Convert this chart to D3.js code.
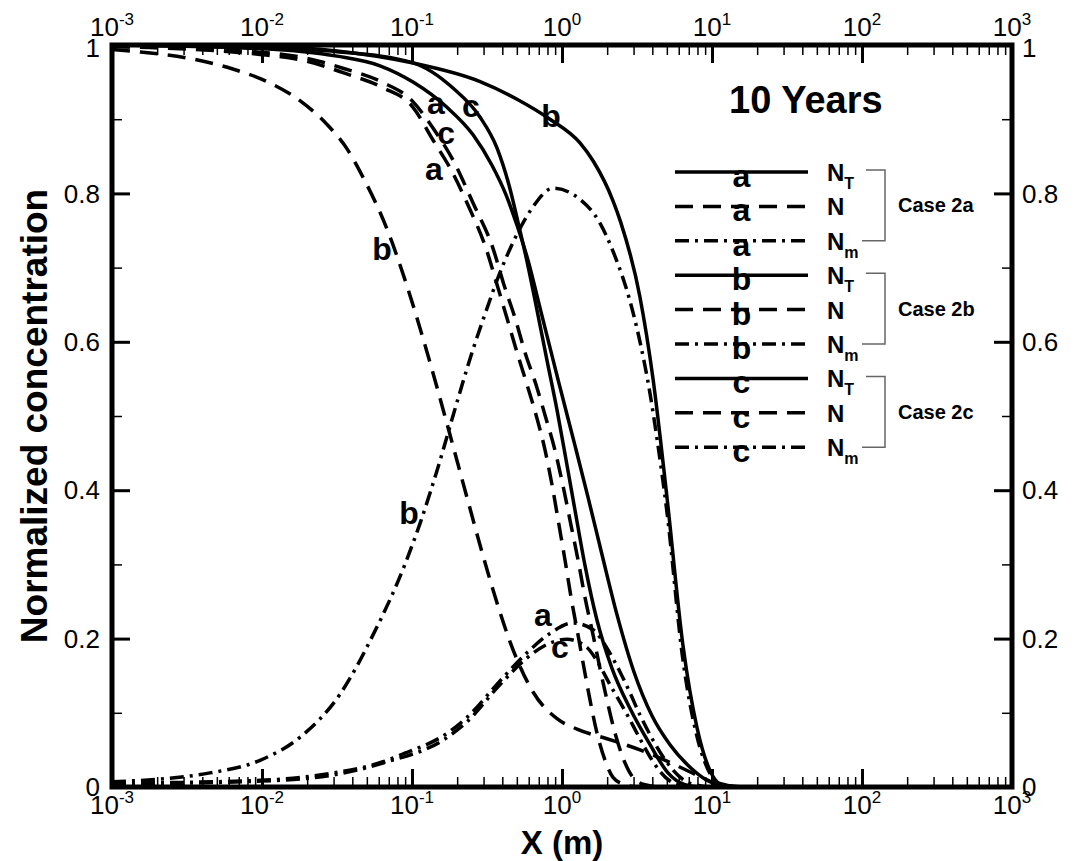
<!DOCTYPE html>
<html>
<head>
<meta charset="utf-8">
<script src="https://cdn.jsdelivr.net/npm/d3@7"></script>
<style>
  body { margin: 0; background: #fff; }
  svg { display: block; font-family: "Liberation Sans", Arial, sans-serif; }
</style>
</head>
<body>
<svg id="chart" width="1075" height="861"></svg>
<script>
// tick values
const xMajor = [1e-3, 1e-2, 1e-1, 1, 10, 100, 1000];
const xExponents = ["-3", "-2", "-1", "0", "1", "2", "3"];
const yMajor = [0, 0.2, 0.4, 0.6, 0.8, 1];
const yMajorLabels = ["0", "0.2", "0.4", "0.6", "0.8", "1"];
const yMinor = [0.1, 0.3, 0.5, 0.7, 0.9];

// case a
const aNT = [[0.001,1],[0.01,0.995],[0.0316,0.985],[0.0612,0.972],[0.1016,0.95],[0.171,0.916],[0.2553,0.879],[0.3412,0.838],[0.4236,0.798],[0.5012,0.757],[0.5934,0.71],[0.7129,0.646],[0.955,0.544],[1.221,0.46],[1.489,0.391],[1.849,0.313],[2.328,0.232],[3.02,0.155],[3.981,0.096],[5.248,0.057],[7.025,0.028],[9.268,0.009],[12.21,0.001],[16.6,0],[1000,0]];
const aN  = [[0.001,0.998],[0.01,0.987],[0.02,0.978],[0.0355,0.962],[0.0631,0.943],[0.1016,0.916],[0.138,0.872],[0.1875,0.827],[0.2328,0.787],[0.3112,0.726],[0.369,0.677],[0.4295,0.632],[0.5012,0.586],[0.5848,0.542],[0.6808,0.497],[0.7709,0.454],[0.871,0.4],[0.955,0.353],[1.047,0.306],[1.148,0.256],[1.279,0.205],[1.403,0.16],[1.538,0.117],[1.71,0.073],[1.936,0.036],[2.188,0.013],[2.63,0.003],[3.311,0],[1000,0]];
const aNm = [[0.001,0.005],[0.0097,0.009],[0.0297,0.019],[0.0641,0.034],[0.0832,0.043],[0.179,0.075],[0.2328,0.094],[0.3864,0.143],[0.5848,0.181],[0.8318,0.207],[1.183,0.221],[1.611,0.212],[1.995,0.187],[2.438,0.155],[2.838,0.127],[3.311,0.097],[4.046,0.063],[5.012,0.033],[7.129,0.005],[10,0],[1000,0]];

// case b
const bNT = [[0.001,1],[0.01,0.998],[0.0316,0.992],[0.1,0.976],[0.2818,0.951],[0.5012,0.927],[0.8318,0.9],[1.318,0.868],[1.622,0.843],[2.188,0.79],[2.455,0.762],[3.311,0.66],[4.046,0.55],[5.012,0.39],[6.412,0.19],[7.943,0.08],[9.705,0.022],[11.22,0.005],[15.85,0],[1000,0]];
const bN  = [[0.001,0.994],[0.00147,0.991],[0.00347,0.981],[0.00631,0.968],[0.01096,0.95],[0.0179,0.925],[0.0271,0.893],[0.0369,0.86],[0.0471,0.822],[0.0681,0.752],[0.0927,0.675],[0.1183,0.605],[0.138,0.558],[0.179,0.475],[0.2328,0.39],[0.2972,0.312],[0.369,0.248],[0.4498,0.196],[0.6412,0.128],[0.9268,0.092],[1.259,0.078],[1.995,0.065],[3.311,0.05],[5.012,0.035],[8.318,0.014],[11.22,0.003],[15.85,0],[1000,0]];
const bNm = [[0.001,0.007],[0.0045,0.019],[0.0097,0.036],[0.0179,0.067],[0.0331,0.125],[0.055,0.205],[0.0897,0.3],[0.113,0.355],[0.1538,0.44],[0.1875,0.5],[0.2553,0.59],[0.3162,0.645],[0.369,0.683],[0.5012,0.745],[0.631,0.78],[0.871,0.807],[1.318,0.792],[1.791,0.76],[2.188,0.722],[2.838,0.655],[3.311,0.6],[3.864,0.53],[4.295,0.47],[5.012,0.37],[6.412,0.17],[7.943,0.068],[9.705,0.018],[11.22,0.003],[15.85,0],[1000,0]];

// case c
const cNT = [[0.001,1],[0.01,0.996],[0.0316,0.991],[0.1016,0.976],[0.1875,0.942],[0.2838,0.903],[0.369,0.861],[0.4436,0.811],[0.5093,0.761],[0.5848,0.708],[0.6808,0.643],[0.7943,0.575],[0.9268,0.508],[1.064,0.441],[1.221,0.373],[1.422,0.299],[1.71,0.225],[2.154,0.16],[2.838,0.106],[3.864,0.057],[5.09,0.019],[6.607,0.003],[8.318,0],[1000,0]];
const cN  = [[0.001,0.998],[0.01,0.99],[0.02,0.982],[0.0355,0.968],[0.0631,0.95],[0.1,0.925],[0.138,0.888],[0.1875,0.845],[0.2553,0.787],[0.3467,0.726],[0.41,0.677],[0.4864,0.632],[0.5662,0.586],[0.6714,0.542],[0.7816,0.497],[0.8974,0.454],[1.03,0.4],[1.148,0.353],[1.279,0.306],[1.422,0.256],[1.611,0.205],[1.791,0.16],[1.995,0.117],[2.254,0.073],[2.588,0.036],[2.972,0.013],[3.573,0.003],[4.498,0],[1000,0]];
const cNm = [[0.001,0.004],[0.01,0.008],[0.0316,0.017],[0.0631,0.032],[0.178,0.069],[0.2328,0.088],[0.3864,0.138],[0.5848,0.174],[0.8318,0.194],[1.079,0.199],[1.469,0.188],[1.71,0.17],[2.089,0.138],[2.71,0.098],[3.311,0.065],[4.046,0.034],[5.248,0.008],[6.31,0.002],[8,0],[1000,0]];

// letters written on the curves: [text, x, y]
const curveLabels = [
  ["a", 0.1445, 0.922], ["c", 0.247, 0.918], ["b", 0.845, 0.904],
  ["c", 0.1686, 0.881], ["a", 0.14, 0.833], ["b", 0.063, 0.726],
  ["b", 0.0955, 0.369], ["a", 0.747, 0.232], ["c", 0.97, 0.189]
];

const cases = ["a", "b", "c"];
const caseNames = ["Case 2a", "Case 2b", "Case 2c"];

const series = [
  { c: "a", k: "T", d: aNT }, { c: "a", k: "", d: aN }, { c: "a", k: "m", d: aNm },
  { c: "b", k: "T", d: bNT }, { c: "b", k: "", d: bN }, { c: "b", k: "m", d: bNm },
  { c: "c", k: "T", d: cNT }, { c: "c", k: "", d: cN }, { c: "c", k: "m", d: cNm }
];

const dashFor = { "T": null, "": "18,10", "m": "14,6,3,6" };

const plotL = 112, plotR = 1012, plotT = 45, plotB = 787;

const svg = d3.select("#chart");

const x = d3.scaleLog().domain([1e-3, 1e3]).range([plotL, plotR]);
const y = d3.scaleLinear().domain([0, 1]).range([plotB, plotT]);

// minor log ticks 2..9 in each decade
const xMinor = [];
for (let e = -3; e < 3; e++) {
  for (let m = 2; m < 10; m++) xMinor.push(m * Math.pow(10, e));
}

function styleAxis(g, w) {
  g.select(".domain").remove();
  g.selectAll("text").remove();
  g.selectAll("line").attr("stroke", "#000").attr("stroke-width", w);
}

// ticks on all four sides, pointing inwards
svg.append("g").attr("transform", `translate(0,${plotB})`)
  .call(d3.axisBottom(x).tickValues(xMajor).tickSize(-18)).call(g => styleAxis(g, 3));
svg.append("g").attr("transform", `translate(0,${plotB})`)
  .call(d3.axisBottom(x).tickValues(xMinor).tickSize(-10)).call(g => styleAxis(g, 1.5));
svg.append("g").attr("transform", `translate(0,${plotT})`)
  .call(d3.axisTop(x).tickValues(xMajor).tickSize(-18)).call(g => styleAxis(g, 3));
svg.append("g").attr("transform", `translate(0,${plotT})`)
  .call(d3.axisTop(x).tickValues(xMinor).tickSize(-10)).call(g => styleAxis(g, 1.5));
svg.append("g").attr("transform", `translate(${plotL},0)`)
  .call(d3.axisLeft(y).tickValues(yMajor).tickSize(-18)).call(g => styleAxis(g, 3));
svg.append("g").attr("transform", `translate(${plotL},0)`)
  .call(d3.axisLeft(y).tickValues(yMinor).tickSize(-10)).call(g => styleAxis(g, 1.5));
svg.append("g").attr("transform", `translate(${plotR},0)`)
  .call(d3.axisRight(y).tickValues(yMajor).tickSize(-18)).call(g => styleAxis(g, 3));
svg.append("g").attr("transform", `translate(${plotR},0)`)
  .call(d3.axisRight(y).tickValues(yMinor).tickSize(-10)).call(g => styleAxis(g, 1.5));

// curves
svg.append("clipPath").attr("id", "plotclip")
  .append("rect").attr("x", plotL).attr("y", plotT - 3)
  .attr("width", plotR - plotL).attr("height", plotB - plotT + 3);

const line = d3.line()
  .x(d => x(d[0]))
  .y(d => y(d[1]))
  .curve(d3.curveMonotoneX);

svg.append("g").attr("clip-path", "url(#plotclip)")
  .selectAll("path")
  .data(series)
  .join("path")
  .attr("d", s => line(s.d))
  .attr("fill", "none")
  .attr("stroke", "#000")
  .attr("stroke-width", 3.5)
  .attr("stroke-dasharray", s => dashFor[s.k]);

// frame
svg.append("rect")
  .attr("x", plotL).attr("y", plotT)
  .attr("width", plotR - plotL).attr("height", plotB - plotT)
  .attr("fill", "none").attr("stroke", "#000").attr("stroke-width", 5);

// x tick labels (10^n) at top and bottom
[plotB + 27, plotT - 9].forEach(by => {
  const t = svg.append("g").selectAll("text")
    .data(xMajor)
    .join("text")
    .attr("x", d => x(d))
    .attr("y", by)
    .attr("text-anchor", "middle")
    .attr("font-size", 26);
  t.append("tspan").text("10");
  t.append("tspan").text((d, i) => xExponents[i])
    .attr("font-size", 17).attr("dy", -11);
});

// y tick labels
svg.append("g").selectAll("text")
  .data(yMajor)
  .join("text")
  .attr("x", plotL - 12).attr("y", d => y(d) + (d === 1 ? 3 : 0)).attr("dy", "0.35em")
  .attr("text-anchor", "end").attr("font-size", 26)
  .text((d, i) => yMajorLabels[i]);
svg.append("g").selectAll("text")
  .data(yMajor)
  .join("text")
  .attr("x", plotR + 10).attr("y", d => y(d) + (d === 1 ? 3 : 0)).attr("dy", "0.35em")
  .attr("text-anchor", "start").attr("font-size", 26)
  .text((d, i) => yMajorLabels[i]);

// axis titles
svg.append("text")
  .attr("x", (plotL + plotR) / 2).attr("y", 854)
  .attr("text-anchor", "middle").attr("font-size", 33).attr("font-weight", "bold")
  .text("X (m)");
svg.append("text")
  .attr("transform", `translate(34,${(plotT + plotB) / 2}) rotate(-90)`)
  .attr("dy", "0.35em")
  .attr("text-anchor", "middle").attr("font-size", 37).attr("font-weight", "bold")
  .text("Normalized concentration");

// letters on curves
svg.append("g").selectAll("text")
  .data(curveLabels)
  .join("text")
  .attr("x", d => x(d[1])).attr("y", d => y(d[2])).attr("dy", "0.35em")
  .attr("text-anchor", "middle").attr("font-size", 32).attr("font-weight", "bold")
  .text(d => d[0]);

// title
svg.append("text")
  .attr("x", 729).attr("y", 113)
  .attr("font-size", 38).attr("font-weight", "bold")
  .text("10 Years");

// legend
const legX0 = 675, legX1 = 808, rowY0 = 172, rowH = 34.4;
const leg = svg.append("g");
series.forEach((s, i) => {
  const ry = rowY0 + i * rowH;
  leg.append("line")
    .attr("x1", legX0).attr("x2", legX1).attr("y1", ry).attr("y2", ry)
    .attr("stroke", "#000").attr("stroke-width", 3.5)
    .attr("stroke-dasharray", dashFor[s.k]);
  leg.append("text")
    .attr("x", (legX0 + legX1) / 2).attr("y", ry + 15)
    .attr("text-anchor", "middle").attr("font-size", 32).attr("font-weight", "bold")
    .text(s.c);
  const t = leg.append("text")
    .attr("x", 827).attr("y", ry + 9)
    .attr("font-size", 24).attr("font-weight", "bold");
  t.append("tspan").text("N");
  if (s.k) t.append("tspan").text(s.k).attr("font-size", 16).attr("dy", 8);
});

// brackets and case names
cases.forEach((c, gi) => {
  const y0 = rowY0 + gi * 3 * rowH - 2;
  const y1 = rowY0 + (gi * 3 + 2) * rowH;
  leg.append("path")
    .attr("d", `M866,${y0}H885V${y1}H862`)
    .attr("fill", "none").attr("stroke", "#666").attr("stroke-width", 1.5);
  leg.append("text")
    .attr("x", 898).attr("y", (y0 + y1) / 2).attr("dy", "0.35em")
    .attr("font-size", 20).attr("font-weight", "bold")
    .text(caseNames[gi]);
});
</script>
</body>
</html>
